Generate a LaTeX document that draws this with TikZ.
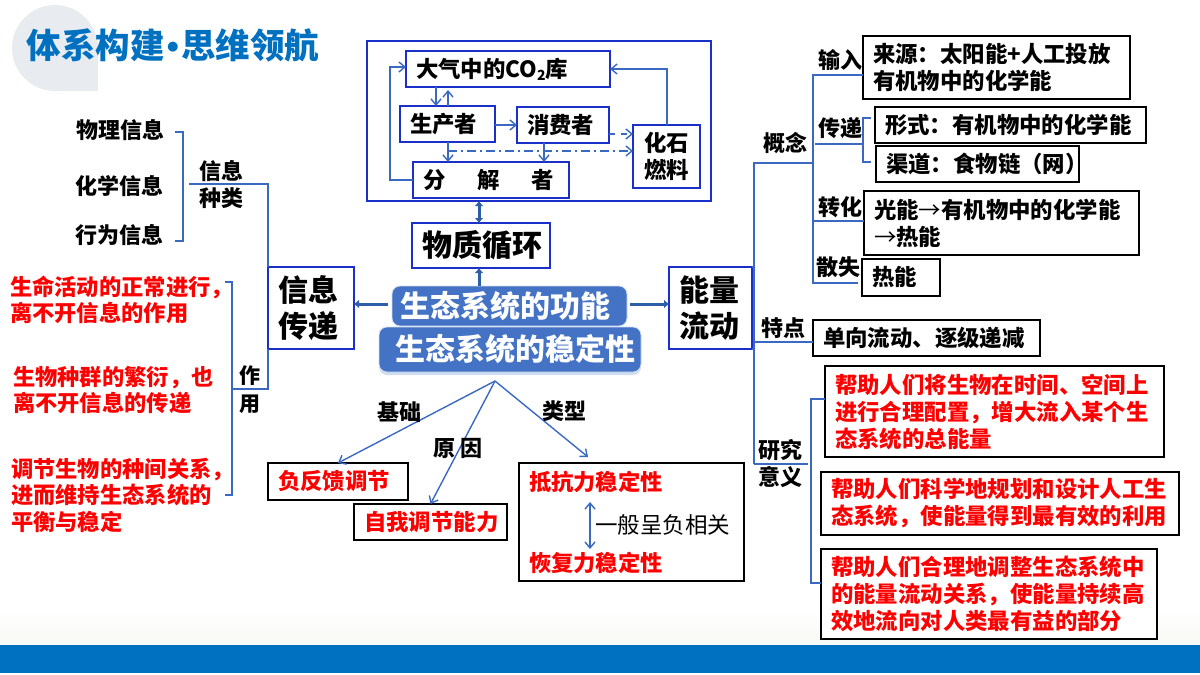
\documentclass[tikz,border=0pt]{standalone}
\usepackage{fontspec}
\setmainfont{Noto Sans CJK SC}
\newfontfamily\dotfont{Liberation Sans}
\usepackage{tikz}
\usetikzlibrary{arrows.meta,shadows}

\definecolor{linkblue}{HTML}{3A69C4}
\definecolor{framblue}{HTML}{1B2FCB}
\definecolor{capsblue}{HTML}{4472C4}
\definecolor{headblue}{HTML}{0070C0}
\definecolor{fatblue}{HTML}{2F5EA8}
\definecolor{dropgrey}{HTML}{E8ECF1}
\definecolor{footgrey}{HTML}{F8F9F4}

\begin{document}
\begin{tikzpicture}[
	x = 1pt, y = -1pt, % picture is laid out in pixels of the slide
	> = {Straight Barb[length=6pt,width=10pt]}, % arrow head style
	line width = 1.2pt,
	link/.style={linkblue, line width=1.4pt},
	trunk/.style={linkblue, line width=1.8pt, line join=miter},
	fat/.style={fatblue, line width=3pt, -{Latex[length=5pt,width=9pt]}},
	sz/.style 2 args={minimum width=#1pt, minimum height=#2pt, text width=#1pt-20pt},
	B/.style={draw=framblue, line width=1.6pt, fill=white, anchor=north west, inner xsep=10pt, inner ysep=0pt, outer sep=0pt, align=left, font=\fontsize{22.4}{27}\selectfont\bfseries},
	K/.style={B, draw=black, text=black},
	R/.style={K, text=red},
	L/.style={inner sep=0pt, outer sep=0pt, font=\fontsize{22}{27}\selectfont\bfseries},
	W/.style={L, anchor=west, align=left, text=red, font=\fontsize{22.3}{26.5}\selectfont\bfseries},
	C/.style={rounded corners=8pt, fill=capsblue, draw=white!75!capsblue, line width=.8pt, text=white, anchor=north west, align=left, inner ysep=0pt, outer sep=0pt, font=\fontsize{30}{30}\selectfont\bfseries},
	]

	\useasboundingbox (0,0) rectangle (1200,675);

	% slide decoration
	\shade[top color=white, bottom color=footgrey] (0,610) rectangle (1200,645);
	\fill[headblue] (0,645) rectangle (1200,673);
	\fill[dropgrey] (55,48) circle [radius=43];
	\fill[dropgrey] (55,48) rectangle (98,91);
	\node[L, anchor=west, text=headblue, font=\fontsize{34.5}{34.5}\selectfont\bfseries] (title) at (27,45) {体系构建\hspace{2pt}{\dotfont •}\hspace{2pt}思维领航};

	% carbon cycle
	\node[B, sz={344}{160}] (frame) at (367,41) {};
	\node[B, sz={204}{36}] (co2) at (406,51) {大气中的CO\raisebox{-3pt}{\fontsize{14}{14}\selectfont 2}库};
	\node[B, sz={95}{36}] (prod) at (400,106) {生产者};
	\node[B, sz={92}{36}] (cons) at (517,107) {消费者};
	\node[B, sz={156}{36}] (deco) at (413,162) {分\hspace{32pt}解\hspace{32pt}者};
	\node[B, sz={67}{63}, align=center, inner xsep=0pt, text width=67pt] (foss) at (633,125) {化石\\燃料};

	\coordinate (dn) at (436,96);
	\coordinate (up) at (448,96);
	\coordinate (pd) at (448,151);
	\coordinate (cd) at (544,151);
	\coordinate (fu) at (667,69);
	\coordinate (dl) at (390,180);
	\coordinate (dt) at (390,67);
	\coordinate (cf) at (620,134);

	\draw[link,->] (co2.south -| dn) -- (prod.north -| dn);
	\draw[link,->,shorten >=3pt] (prod.north -| up) -- (co2.south -| up);
	\draw[link,->] (prod.east |- cons) -- (cons.west);
	\draw[link,->] (prod.south -| pd) -- (deco.north -| pd);
	\draw[link,->] (cons.south -| cd) -- (deco.north -| cd);
	\draw[link,->,dash pattern=on 6pt off 6pt] (cons.east |- cf) -- (foss.west |- cf);
	\draw[link,->,dash pattern=on 9pt off 4pt on 2pt off 4pt] (pd) -- (foss.west |- pd);
	\draw[link,->] (foss.north -| fu) -- (fu) -- (co2.east |- fu);
	\draw[link,->] (deco.west |- dl) -- (dl) -- (dt) -- (co2.west |- dt);

	% centre
	\node[B, sz={138}{45}, font=\fontsize{30}{36}\selectfont\bfseries] (mat) at (412,223) {物质循环};
	\node[B, sz={86}{82}, font=\fontsize{30}{36}\selectfont\bfseries] (info) at (268,267) {信息\\传递};
	\node[B, sz={83}{82}, font=\fontsize{30}{36}\selectfont\bfseries] (ener) at (669,267) {能量\\流动};
	\node[C, inner xsep=8pt, text width=219pt, minimum height=40pt] (func) at (392,286) {生态系统的功能};
	\node[C, inner xsep=16pt, text width=230pt, minimum height=45pt, drop shadow={shadow xshift=0pt, shadow yshift=-3pt, fill=capsblue!35, opacity=.7}] (stab) at (379,327) {生态系统的稳定性};

	\draw[fat] (func.west |- info.east) ++(-4,-4) coordinate (fl) -- (info.east |- fl);
	\draw[fat] (func.east |- ener.west) ++(3,-4) coordinate (fr) -- (ener.west |- fr);
	\coordinate (mx) at (479,276);
	\draw[fat] (func.north -| mx) -- (mat.south -| mx);
	\draw[fat,{Latex[length=5pt,width=9pt]}-{Latex[length=5pt,width=9pt]}] (mat.north -| mx) -- (frame.south -| mx);

	% information side
	\node[L] (phys) at (120,130) {物理信息};
	\node[L] (chem) at (119,186) {化学信息};
	\node[L] (beha) at (119,235) {行为信息};
	\node[L, align=center] (kind) at (221,184.5) {信息\\种类};

	\coordinate (lt) at (175,132);
	\coordinate (lb) at (175,241);
	\coordinate (lx) at (183,132);
	\draw[link] (lt) -- (lx) -- (lx |- lb) -- (lb);
	\draw[link] (kind.west |- info.north) ++(-10,-83) coordinate (ks) -- (info.west |- ks) -- (info.north west);

	\node[W] (life) at (10,300) {生命活动的正常进行，\\离不开信息的作用};
	\node[W] (popu) at (13,390) {生物种群的繁衍，也\\离不开信息的传递};
	\node[W] (rela) at (11,495) {调节生物的种间关系，\\进而维持生态系统的\\平衡与稳定};
	\node[L, align=center, font=\fontsize{21}{28}\selectfont\bfseries] (role) at (250,390) {作\\用};

	\coordinate (rt) at (225,282);
	\coordinate (rb) at (225,495);
	\coordinate (rx) at (232,282);
	\coordinate (rm) at (232,389);
	\draw[link] (rt) -- (rx) -- (rx |- rb) -- (rb);
	\draw[link] (rm) -- (info.south west |- rm) -- (info.south west);

	% stability
	\coordinate (apex) at (495,381);
	\coordinate (tk) at (588,457);
	\node[R, sz={140}{37}] (nega) at (268,463) {负反馈调节};
	\node[R, sz={153}{36}] (self) at (354,504) {自我调节能力};
	\node[K, sz={225}{118}] (kang) at (519,463) {};
	\node[W] (resi) at (529,482) {抵抗力稳定性};
	\node[W] (reco) at (529,563) {恢复力稳定性};
	\node[L, anchor=west, font=\fontsize{22.5}{27}\selectfont] (corr) at (595,525) {一般呈负相关};

	\coordinate (ka) at (590,502);
	\coordinate (kb) at (590,549);
	\draw[link,<->] (ka) -- (kb);
	\draw[link,->] (apex) -- (nega.north);
	\draw[link,->] (apex) -- (self.north);
	\draw[link,->] (apex) -- (tk);

	\node[L] (base) at (399,412) {基础};
	\node[L] (caus) at (458,448) {原\hspace{5pt}因};
	\node[L] (type) at (564,411) {类型};

	% energy side
	\node[K, sz={267}{63}] (sour) at (863,36) {来源：太阳能+人工投放\\有机物中的化学能};
	\node[K, sz={271}{36}] (form) at (875,107) {形式：有机物中的化学能};
	\node[K, sz={203}{36}] (chan) at (876,146) {渠道：食物链（网）};
	\node[K, sz={275}{64}] (conv) at (864,191) {光能{\mdseries →}有机物中的化学能\\{\mdseries →}热能};
	\node[K, sz={78}{37}] (heat) at (862,259) {热能};
	\node[K, sz={227}{36}] (oneway) at (813,320) {单向流动、逐级递减};
	\node[R, sz={339}{91}] (helpa) at (825,366) {帮助人们将生物在时间、空间上\\进行合理配置，增大流入某个生\\态系统的总能量};
	\node[R, sz={358}{63}] (helpb) at (821,472) {帮助人们科学地规划和设计人工生\\态系统，使能量得到最有效的利用};
	\node[R, sz={336}{90}] (helpc) at (821,549) {帮助人们合理地调整生态系统中\\的能量流动关系，使能量持续高\\效地流向对人类最有益的部分};

	\node[L] (conc) at (785,143) {概念};
	\node[L] (inpu) at (840,60) {输入};
	\node[L] (tran) at (840,128) {传递};
	\node[L] (turn) at (840,207) {转化};
	\node[L] (lost) at (838,267) {散失};
	\node[L] (feat) at (783,328) {特点};
	\node[L, align=center] (mean) at (780,464) {研究\\意义};

	\coordinate (ta) at (754,163);
	\coordinate (tb) at (754,464);
	\coordinate (tc) at (813,163);
	\coordinate (td) at (813,75);
	\coordinate (te) at (813,283);
	\coordinate (tf) at (813,221);
	\coordinate (tg) at (815,144);
	\coordinate (th) at (863,144);
	\coordinate (ti) at (871,118);
	\coordinate (tj) at (871,162);
	\coordinate (tk2) at (858,283);
	\coordinate (tl) at (754,342);
	\coordinate (tm) at (808,464);
	\coordinate (tn) at (811,399);
	\coordinate (to) at (811,583);

	\draw[trunk] (tc) -- (ta) -- (tb);
	\draw[trunk] (ener.north east) -- (ta |- ener.north east);
	\draw[trunk] (ener.south east) -- (ta |- ener.south east);
	\draw[trunk] (td -| sour.west) -- (td) -- (te) -- (tk2);
	\draw[trunk] (tf) -- (conv.west |- tf);
	\draw[link] (tg) -- (th);
	\draw[link] (ti) -- (th |- ti) -- (th |- tj) -- (tj);
	\draw[link] (tl) -- (oneway.west |- tl);
	\draw[link] (tb) -- (tm);
	\draw[link] (helpa.west |- tn) -- (tn) -- (to) -- (helpc.west |- to);

\end{tikzpicture}
\end{document}
